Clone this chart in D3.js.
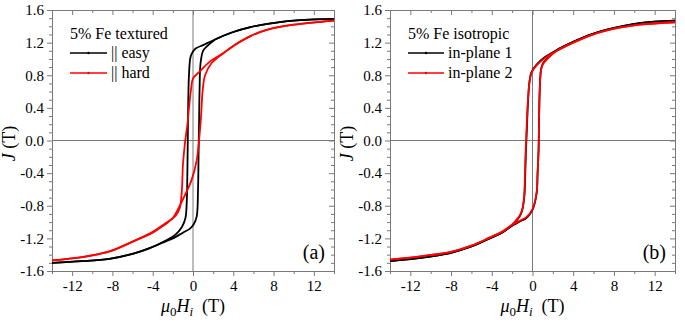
<!DOCTYPE html>
<html>
<head>
<meta charset="utf-8">
<script src="https://cdn.jsdelivr.net/npm/d3@7"></script>
<style>
  body { margin: 0; background: #fff; }
  svg { display: block; }
</style>
</head>
<body>
<script>
// tick values
const xMajor = [-12, -8, -4, 0, 4, 8, 12];
const xMinor = [-14, -10, -6, -2, 2, 6, 10, 14];
const yMajor = [-1.6, -1.2, -0.8, -0.4, 0, 0.4, 0.8, 1.2, 1.6];
const yMinor = d3.range(-16, 17).filter(v => v % 4 !== 0).map(v => v / 10);

// panel (a): 5% Fe textured, [H (T), J (T)] along each branch
const easyDesc = [[14,1.49],[10,1.47],[7.4,1.43],[5.7,1.39],[4,1.33],[2.4,1.25],[1,1.17],[0.3,1.13],[0,1.09],[-0.25,1.02],[-0.4,0.8],[-0.48,0.4],[-0.52,0],[-0.56,-0.4],[-0.62,-0.75],[-0.75,-0.95],[-1.1,-1.06],[-1.8,-1.16],[-2.6,-1.22],[-4.3,-1.32],[-6,-1.39],[-8.3,-1.45],[-11,-1.48],[-14,-1.5]];
const easyAsc = [[-14,-1.5],[-11,-1.48],[-8.3,-1.45],[-6,-1.39],[-4.3,-1.32],[-2.6,-1.23],[-2,-1.2],[-1,-1.13],[-0.3,-1.08],[0.1,-1.02],[0.37,-0.93],[0.5,-0.6],[0.55,-0.2],[0.6,0.2],[0.65,0.6],[0.75,0.95],[1,1.1],[1.35,1.15],[2,1.22],[2.4,1.25],[4,1.33],[5.7,1.39],[7.4,1.43],[10,1.47],[14,1.49]];
const hardDesc = [[14,1.47],[10,1.42],[7.4,1.36],[5.7,1.28],[4,1.16],[3,1.07],[1.7,0.97],[0.7,0.85],[0,0.76],[-0.2,0.62],[-0.4,0.4],[-0.55,0.2],[-0.77,0],[-1,-0.3],[-1.1,-0.6],[-1.3,-0.82],[-1.7,-0.92],[-2.2,-0.97],[-2.8,-1.02],[-4,-1.12],[-6,-1.24],[-8.3,-1.36],[-11,-1.43],[-14,-1.47]];
const hardAsc = [[-14,-1.47],[-11,-1.43],[-8.3,-1.36],[-6,-1.24],[-4,-1.13],[-3,-1.05],[-2,-0.95],[-1.4,-0.82],[-0.8,-0.67],[-0.13,-0.48],[0.37,-0.24],[0.6,0],[0.8,0.3],[0.95,0.6],[1.2,0.8],[1.85,0.95],[3,1.07],[4,1.16],[5.7,1.28],[7.4,1.36],[10,1.42],[14,1.47]];

// panel (b): 5% Fe isotropic
const ip1Desc = [[14,1.47],[10.5,1.44],[7.3,1.36],[5.5,1.29],[4,1.21],[2.4,1.11],[1.2,1.02],[0.4,0.93],[-0.1,0.84],[-0.3,0.72],[-0.45,0.45],[-0.55,0.15],[-0.65,-0.15],[-0.72,-0.45],[-0.8,-0.68],[-1,-0.85],[-1.25,-0.93],[-1.7,-1],[-2.2,-1.06],[-3,-1.13],[-4.2,-1.2],[-6,-1.3],[-8.1,-1.38],[-11,-1.44],[-14,-1.48]];
const ip1Asc = [[-14,-1.48],[-11,-1.44],[-8.1,-1.38],[-6,-1.3],[-4.2,-1.2],[-3,-1.13],[-2.2,-1.06],[-1.2,-0.99],[-0.6,-0.95],[0,-0.85],[0.4,-0.65],[0.5,-0.4],[0.6,-0.1],[0.65,0.3],[0.72,0.65],[0.85,0.88],[1.05,0.95],[1.7,1.04],[2.4,1.11],[4,1.21],[5.5,1.29],[7.3,1.36],[10.5,1.44],[14,1.47]];
const ip2Desc = [[14,1.45],[10.5,1.42],[7.3,1.35],[5.5,1.28],[4,1.2],[2.4,1.1],[1.2,1.01],[0.4,0.92],[-0.1,0.83],[-0.3,0.71],[-0.47,0.45],[-0.58,0.15],[-0.68,-0.15],[-0.75,-0.45],[-0.82,-0.68],[-1,-0.84],[-1.25,-0.92],[-1.7,-0.99],[-2.2,-1.05],[-3,-1.12],[-4.2,-1.19],[-6,-1.29],[-8.1,-1.37],[-11,-1.42],[-14,-1.46]];
const ip2Asc = [[-14,-1.46],[-11,-1.42],[-8.1,-1.37],[-6,-1.29],[-4.2,-1.19],[-3,-1.12],[-2.2,-1.05],[-1.2,-0.98],[-0.6,-0.94],[0,-0.84],[0.4,-0.64],[0.5,-0.4],[0.6,-0.1],[0.65,0.3],[0.72,0.65],[0.85,0.87],[1.05,0.94],[1.7,1.03],[2.4,1.1],[4,1.2],[5.5,1.28],[7.3,1.35],[10.5,1.42],[14,1.45]];

const width = 685, height = 326;
const axisColor = "#7a7a7a";
const serif = "'Liberation Serif', 'Times New Roman', 'DejaVu Serif', serif";

const svg = d3.select("body")
  .append("svg")
  .attr("width", width)
  .attr("height", height)
  .attr("font-family", serif);

svg.append("rect").attr("width", width).attr("height", height).attr("fill", "#fff");

function drawPanel(p) {
  const x = d3.scaleLinear().domain([-14, 14]).range([p.left, p.right]);
  const y = d3.scaleLinear().domain([-1.6, 1.6]).range([271, 10]);
  const g = svg.append("g");

  // zero lines
  g.append("line")
    .attr("x1", p.left).attr("x2", p.right)
    .attr("y1", y(0)).attr("y2", y(0))
    .attr("stroke", axisColor).attr("stroke-width", 1);
  g.append("line")
    .attr("x1", x(0)).attr("x2", x(0))
    .attr("y1", y(1.6)).attr("y2", y(-1.6))
    .attr("stroke", axisColor).attr("stroke-width", 1);

  // axes: major + minor ticks on all four sides
  const addAxis = (axis, tr, labels) => {
    const a = g.append("g").attr("transform", tr).call(axis)
      .attr("font-family", serif);
    a.select(".domain").attr("stroke", axisColor);
    a.selectAll(".tick line").attr("stroke", axisColor);
    a.selectAll("text")
      .style("font-family", serif)
      .style("font-size", "15px")
      .attr("fill", labels ? "#000" : "none");
    return a;
  };
  addAxis(d3.axisBottom(x).tickValues(xMajor).tickSize(5).tickPadding(4).tickSizeOuter(0).tickFormat(d => String(d)), `translate(0,${y(-1.6)})`, true);
  addAxis(d3.axisBottom(x).tickValues(xMinor).tickSize(3).tickSizeOuter(0).tickFormat(""), `translate(0,${y(-1.6)})`, false);
  addAxis(d3.axisTop(x).tickValues(xMajor).tickSize(-5).tickSizeOuter(0).tickFormat(""), `translate(0,${y(1.6)})`, false);
  addAxis(d3.axisTop(x).tickValues(xMinor).tickSize(-3).tickSizeOuter(0).tickFormat(""), `translate(0,${y(1.6)})`, false);
  addAxis(d3.axisLeft(y).tickValues(yMajor).tickSize(5).tickPadding(3).tickSizeOuter(0).tickFormat(d => d.toFixed(1)), `translate(${p.left},0)`, true);
  addAxis(d3.axisLeft(y).tickValues(yMinor).tickSize(3).tickSizeOuter(0).tickFormat(""), `translate(${p.left},0)`, false);
  addAxis(d3.axisRight(y).tickValues(yMajor).tickSize(-5).tickSizeOuter(0).tickFormat(""), `translate(${p.right},0)`, false);
  addAxis(d3.axisRight(y).tickValues(yMinor).tickSize(-3).tickSizeOuter(0).tickFormat(""), `translate(${p.right},0)`, false);

  // curves
  const line = d3.line()
    .x(d => x(d[0]))
    .y(d => y(d[1]))
    .curve(d3.curveCatmullRom.alpha(0.5));

  p.series.forEach(s => {
    [s.desc, s.asc].forEach(branch => {
      g.append("path")
        .datum(branch)
        .attr("d", line)
        .attr("fill", "none")
        .attr("stroke", s.color)
        .attr("stroke-width", 1.8)
        .attr("stroke-linejoin", "round");
    });
  });

  // legend
  g.append("text")
    .attr("x", p.legendX).attr("y", 39)
    .style("font-family", serif)
    .style("font-size", "16px")
    .text(p.title);
  p.series.forEach((s, i) => {
    const ly = 53 + i * 20;
    g.append("line")
      .attr("x1", p.legendX).attr("x2", p.legendX + p.sampleLen)
      .attr("y1", ly).attr("y2", ly)
      .attr("stroke", s.color).attr("stroke-width", 1.6);
    g.append("circle")
      .attr("cx", p.legendX + p.sampleLen / 2).attr("cy", ly).attr("r", 1.2)
      .attr("fill", s.color);
    g.append("text")
      .attr("x", p.legendX + p.sampleLen + 4).attr("y", ly + 5)
      .style("font-family", serif)
      .style("font-size", "16px")
      .text(s.name);
  });

  // panel letter
  g.append("text")
    .attr("x", p.right - 9).attr("y", 259)
    .attr("text-anchor", "end")
    .style("font-family", serif)
    .style("font-size", "20px")
    .text(p.letter);

  // axis titles
  const xt = g.append("text")
    .attr("x", x(0)).attr("y", 312)
    .attr("text-anchor", "middle")
    .style("font-family", serif)
    .style("font-size", "18px");
  xt.append("tspan").style("font-style", "italic").text("μ");
  xt.append("tspan").attr("dy", 4).style("font-size", "13px").text("0");
  xt.append("tspan").attr("dy", -4).style("font-style", "italic").text("H");
  xt.append("tspan").attr("dy", 4).style("font-size", "13px").style("font-style", "italic").text("i");
  xt.append("tspan").attr("dy", -4).text("\u00a0 (T)");

  const yt = g.append("text")
    .attr("transform", `translate(${p.left - 37},${y(0) + 3}) rotate(-90)`)
    .attr("text-anchor", "middle")
    .style("font-family", serif)
    .style("font-size", "18px");
  yt.append("tspan").style("font-style", "italic").text("J");
  yt.append("tspan").text(" (T)");
}

drawPanel({
  left: 52, right: 334, letter: "(a)", title: "5% Fe textured",
  legendX: 70, sampleLen: 37,
  series: [
    { name: "|| easy", color: "#000", desc: easyDesc, asc: easyAsc },
    { name: "|| hard", color: "#f00", desc: hardDesc, asc: hardAsc }
  ]
});

drawPanel({
  left: 390, right: 675, letter: "(b)", title: "5% Fe isotropic",
  legendX: 408, sampleLen: 36,
  series: [
    { name: "in-plane 1", color: "#000", desc: ip1Desc, asc: ip1Asc },
    { name: "in-plane 2", color: "#f00", desc: ip2Desc, asc: ip2Asc }
  ]
});
</script>
</body>
</html>
